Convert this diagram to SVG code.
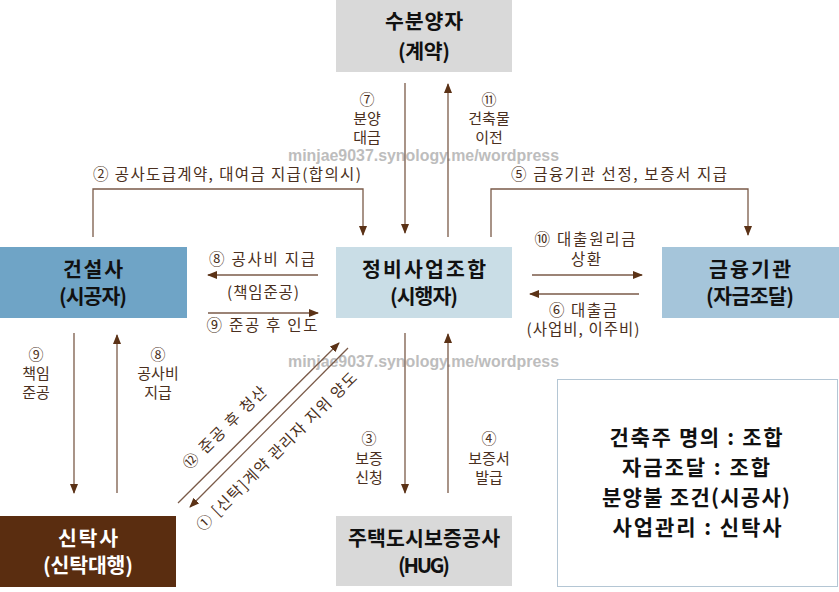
<svg xmlns="http://www.w3.org/2000/svg" width="839" height="592" viewBox="0 0 839 592">
<defs>
<marker id="ah" markerWidth="10" markerHeight="8" refX="9" refY="4" orient="auto" markerUnits="userSpaceOnUse">
<path d="M0,0 L10,4 L0,8 Z" fill="#5b3216"/>
</marker>
<style>
.t{font-family:"Noto Sans CJK KR","Malgun Gothic",sans-serif;font-weight:bold;font-size:20.5px;text-anchor:middle;fill:#111}
.i{font-family:"Noto Sans CJK KR","Malgun Gothic",sans-serif;font-weight:bold;font-size:21px;text-anchor:middle;fill:#111}
.l{font-family:"Noto Sans CJK KR","Malgun Gothic",sans-serif;font-size:15.5px;text-anchor:middle;fill:#4a2f20}
.v{font-family:"Noto Sans CJK KR","Malgun Gothic",sans-serif;font-size:15px;text-anchor:middle;fill:#4a2f20}
.c{fill:none;stroke:#7a5a48;stroke-width:1.3}
.w{font-family:"Liberation Sans",Arial,sans-serif;font-weight:bold;font-size:16px;fill:#bdbdbd}
</style>
</defs>
<rect width="839" height="592" fill="#fff"/>
<text class="w" x="288" y="161" textLength="271" lengthAdjust="spacingAndGlyphs">minjae9037.synology.me/wordpress</text>
<text class="w" x="288" y="367" textLength="271" lengthAdjust="spacingAndGlyphs">minjae9037.synology.me/wordpress</text>

<g id="buyer"><rect x="336" y="0" width="176" height="72" fill="#d9d9d9"/><text class="t" x="424" y="29" textLength="78">수분양자</text><text class="t" x="424" y="59" textLength="52">(계약)</text></g>
<g id="builder"><rect x="0" y="247" width="187" height="71" fill="#6fa4c6"/><text class="t" x="93" y="277" textLength="60">건설사</text><text class="t" x="93" y="304" textLength="68">(시공자)</text></g>
<g id="union"><rect x="336" y="247" width="176" height="71" fill="#c9dde6"/><text class="t" x="424" y="277" textLength="124">정비사업조합</text><text class="t" x="424" y="304" textLength="68">(시행자)</text></g>
<g id="bank"><rect x="662" y="247" width="177" height="71" fill="#a5c5da"/><text class="t" x="750" y="277" textLength="82">금융기관</text><text class="t" x="750" y="304" textLength="88">(자금조달)</text></g>
<g id="trust"><rect x="0" y="516" width="176" height="71" fill="#5a2d10"/><text class="t" x="88" y="546" style="fill:#fff" textLength="60">신탁사</text><text class="t" x="88" y="573" style="fill:#fff" textLength="90">(신탁대행)</text></g>
<g id="hug"><rect x="336" y="516" width="176" height="70" fill="#d9d9d9"/><text class="t" x="424" y="546" textLength="152">주택도시보증공사</text><text class="t" x="424" y="573" textLength="52">(HUG)</text></g>
<g id="info"><rect x="557.5" y="379.5" width="280" height="207" fill="#fff" stroke="#b4c6d4" stroke-width="1"/>
<text class="i" x="696" y="445" textLength="173">건축주 명의 : 조합</text>
<text class="i" x="696" y="474.5" textLength="148">자금조달 : 조합</text>
<text class="i" x="696" y="505" textLength="188">분양불 조건(시공사)</text>
<text class="i" x="697" y="534.5" textLength="169">사업관리 : 신탁사</text></g>

<g id="connectors">
<path class="c" d="M93,237 V189 H363 V235" marker-end="url(#ah)"/>
<path class="c" d="M491,237 V189 H748 V235" marker-end="url(#ah)"/>
<path class="c" d="M405,83 V233" marker-end="url(#ah)"/>
<path class="c" d="M448,237 V84" marker-end="url(#ah)"/>
<path class="c" d="M318,275 H208" marker-end="url(#ah)"/>
<path class="c" d="M208,313 H318" marker-end="url(#ah)"/>
<path class="c" d="M532,275 H642" marker-end="url(#ah)"/>
<path class="c" d="M639,294 H530" marker-end="url(#ah)"/>
<path class="c" d="M74,333 V493" marker-end="url(#ah)"/>
<path class="c" d="M117,493 V335" marker-end="url(#ah)"/>
<path class="c" d="M405,333 V493" marker-end="url(#ah)"/>
<path class="c" d="M448,493 V334" marker-end="url(#ah)"/>
<path class="c" d="M178,503 L339,343" marker-end="url(#ah)"/>
<path class="c" d="M348,348 L190,507" marker-end="url(#ah)"/>
</g>

<g id="labels">
<text class="l" x="227" y="180" textLength="268">② 공사도급계약, 대여금 지급(합의시)</text>
<text class="l" x="619" y="180" textLength="216">⑤ 금융기관 선정, 보증서 지급</text>
<text class="v" x="367" y="105">⑦</text><text class="v" x="367" y="124">분양</text><text class="v" x="367" y="143">대금</text>
<text class="v" x="489" y="105">⑪</text><text class="v" x="489" y="124">건축물</text><text class="v" x="489" y="143">이전</text>
<text class="l" x="262" y="265" textLength="106">⑧ 공사비 지급</text>
<text class="l" x="263" y="298" textLength="72">(책임준공)</text>
<text class="l" x="262" y="331" textLength="111">⑨ 준공 후 인도</text>
<text class="l" x="585" y="245" textLength="101">⑩ 대출원리금</text>
<text class="l" x="586" y="265" textLength="30">상환</text>
<text class="l" x="583" y="316" textLength="68">⑥ 대출금</text>
<text class="l" x="583" y="335" textLength="113">(사업비, 이주비)</text>
<text class="v" x="36" y="360">⑨</text><text class="v" x="36" y="379">책임</text><text class="v" x="36" y="398">준공</text>
<text class="v" x="158" y="360">⑧</text><text class="v" x="158" y="379">공사비</text><text class="v" x="158" y="398">지급</text>
<text class="v" x="369" y="444">③</text><text class="v" x="369" y="464">보증</text><text class="v" x="369" y="483">신청</text>
<text class="v" x="489" y="444">④</text><text class="v" x="489" y="464">보증서</text><text class="v" x="489" y="483">발급</text>
<text class="l" transform="translate(225,428) rotate(-44.6)" y="5" textLength="110">⑫ 준공 후 청산</text>
<text class="l" transform="translate(277,452) rotate(-44.6)" y="5" textLength="218">① [신탁]계약 관리자 지위 양도</text>
</g>
</svg>
